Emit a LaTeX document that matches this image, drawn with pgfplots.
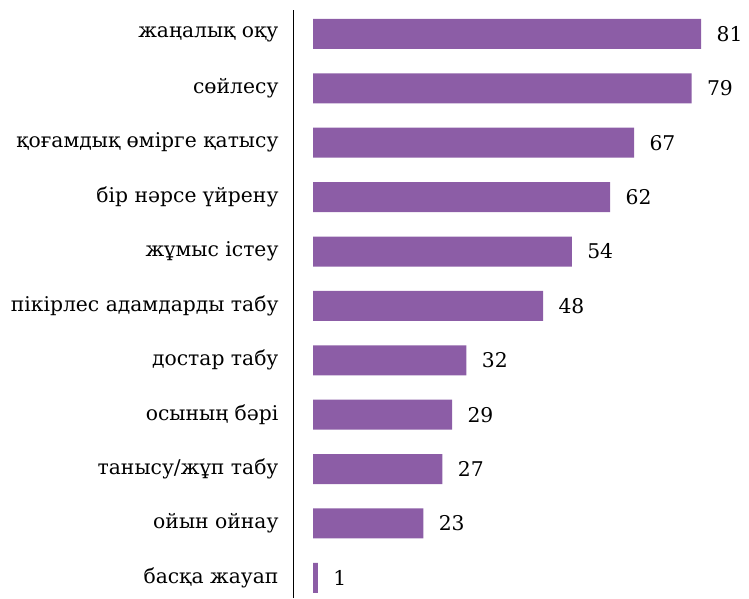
\documentclass[border=0pt]{standalone}
\usepackage{pgfplots}
\pgfplotsset{compat=1.18}
\usepackage{fontspec}
\setmainfont{DejaVu Serif}
\definecolor{barc}{HTML}{8C5DA6}
\begin{document}
\begin{tikzpicture}
\begin{axis}[
  scale only axis,
  width=456pt, height=588pt,
  xbar, bar width=30pt,
  xmin=-4.2, xmax=91,
  ymin=-0.37, ymax=10.44,
  axis y line*=left,
  axis x line=none,
  y axis line style={line width=0.9pt, -},
  ytick={0,...,10},
  yticklabels={басқа жауап, ойын ойнау, танысу/жұп табу, осының бәрі, достар табу, пікірлес адамдарды табу, жұмыс істеу, бір нәрсе үйрену, қоғамдық өмірге қатысу, сөйлесу, жаңалық оқу},
  major tick length=0pt,
  yticklabel style={font=\fontsize{20.3}{24}\selectfont, xshift=-11pt},
  nodes near coords,
  nodes near coords align=horizontal,
  every node near coord/.append style={font=\fontsize{20.3}{24}\selectfont, xshift=12pt},
  /pgf/number format/assume math mode=true,
  clip=false,
]
\addplot[fill=barc, draw=none] coordinates {
(1,0) (23,1) (27,2) (29,3) (32,4) (48,5) (54,6) (62,7) (67,8) (79,9) (81,10)};
\end{axis}
\pgfresetboundingbox
\path (current axis.south west) ++(-293pt,0) rectangle ++(749pt,598pt);
\end{tikzpicture}
\end{document}
